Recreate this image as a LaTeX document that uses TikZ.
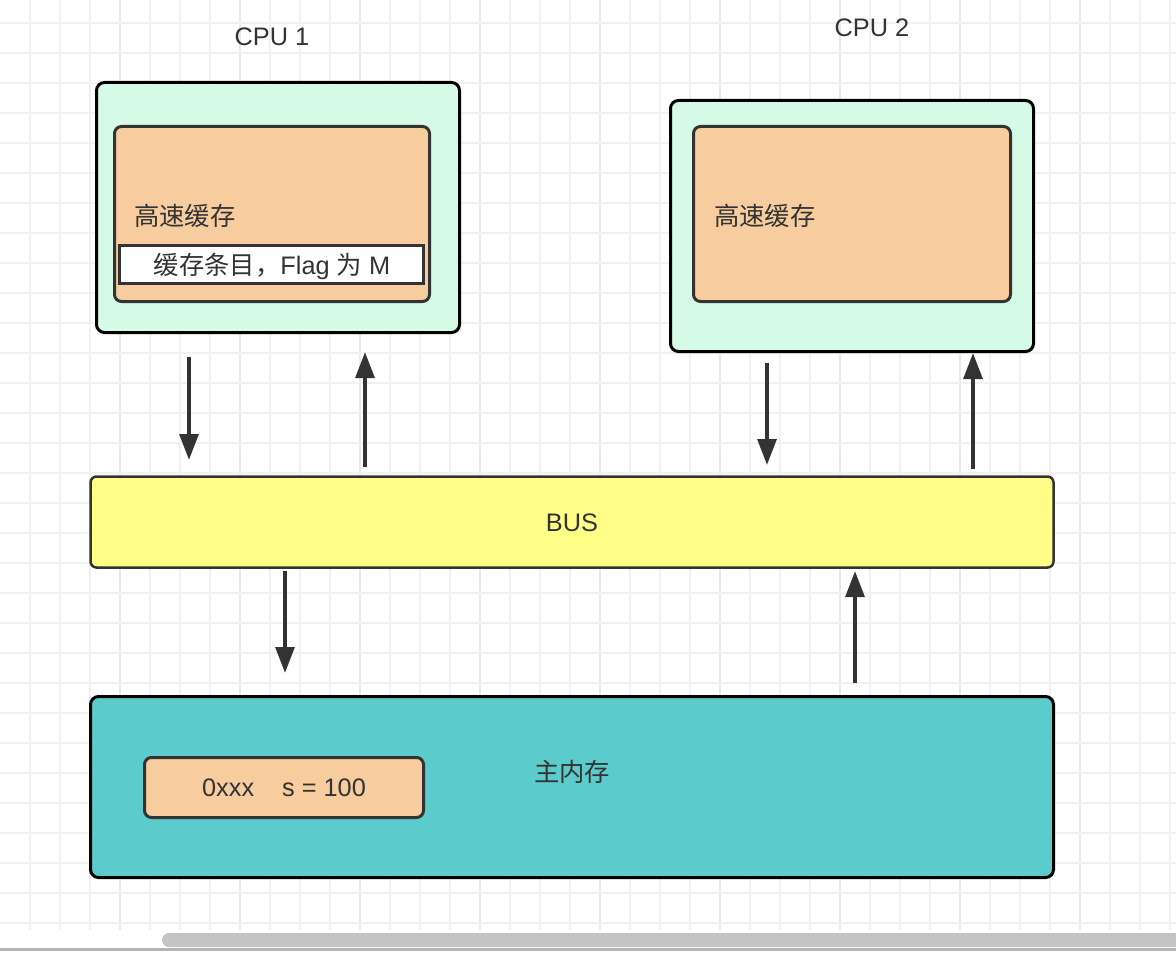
\documentclass[tikz,border=0pt]{standalone}
\usepackage{fontspec}
\setmainfont{Liberation Sans}
\newfontfamily\cjk{Noto Sans CJK SC}
\usetikzlibrary{arrows.meta}
\definecolor{mint}{HTML}{D5FBE6}
\definecolor{peach}{HTML}{F7CC9F}
\definecolor{busy}{HTML}{FFFF88}
\definecolor{teal2}{HTML}{5CCBCB}
\definecolor{ink}{HTML}{333333}
\definecolor{gridc}{HTML}{F1F1F1}
\definecolor{gridm}{HTML}{E9E9E9}
\definecolor{scrollc}{HTML}{C4C4C4}
\definecolor{bottomc}{HTML}{B4B4B4}
\newcommand\pxu{0.75pt}
\tikzset{
  outerbox/.style={draw=black, line width=3*\pxu, rounded corners=8*\pxu, fill=mint, inner sep=0},
  cachebox/.style={draw=ink, line width=3*\pxu, rounded corners=7*\pxu, fill=peach, inner sep=0},
  entrybox/.style={draw=ink, line width=3*\pxu, fill=white, inner sep=0},
  busbox/.style={draw=ink, line width=2.5*\pxu, rounded corners=6*\pxu, fill=busy, inner sep=0},
  membox/.style={draw=black, line width=3*\pxu, rounded corners=8*\pxu, fill=teal2, inner sep=0},
  lbl/.style={text=ink, font=\fontsize{19pt}{23pt}\selectfont, inner sep=0},
  conn/.style={draw=ink, line width=4*\pxu, -{Triangle[length=19.5pt,width=14pt]}},
}
\begin{document}
\begin{tikzpicture}[x=0.75pt,y=-0.75pt]
\useasboundingbox (0,0) rectangle (1176,952);
\fill[white] (0,0) rectangle (1176,952);
% grid
\foreach \x in {30,60,...,1170} \draw[gridc, line width=1.5*\pxu] (\x,0) -- (\x,930);
\foreach \x in {120,240,...,1170} \draw[gridm, line width=1.5*\pxu] (\x,0) -- (\x,930);
\foreach \y in {23,53,...,923} \draw[gridc, line width=1.5*\pxu] (0,\y) -- (1176,\y);
% scrollbar
\fill[scrollc, rounded corners=7*\pxu] (162,933) rectangle (1200,947);
\fill[bottomc] (0,948) rectangle (1176,950.5);

% CPU 1
\node[lbl] (cpu1lbl) at (272,37) {CPU 1};
\node[outerbox, minimum width=363*\pxu, minimum height=250*\pxu] (cpu1) at (278,207.5) {};
\node[cachebox, minimum width=315*\pxu, minimum height=175*\pxu] (cache1) at (272,214) {};
\node[lbl, anchor=west] (cache1lbl) at (134,216) {\cjk 高速缓存};
\node[entrybox, minimum width=304*\pxu, minimum height=38*\pxu] (entry) at (271.5,264.5) {};
\node[lbl] (entrylbl) at (272,266) {{\cjk 缓存条目，}Flag {\cjk 为} M};

% CPU 2
\node[lbl] (cpu2lbl) at (872,28) {CPU 2};
\node[outerbox, minimum width=363*\pxu, minimum height=251*\pxu] (cpu2) at (852,226) {};
\node[cachebox, minimum width=317*\pxu, minimum height=175*\pxu] (cache2) at (852,214) {};
\node[lbl, anchor=west] (cache2lbl) at (714,216) {\cjk 高速缓存};

% BUS
\node[busbox, minimum width=963*\pxu, minimum height=91*\pxu] (bus) at (572,522) {};
\node[lbl] (buslbl) at (572,523) {BUS};

% main memory
\node[membox, minimum width=963*\pxu, minimum height=181*\pxu] (mem) at (572,787) {};
\node[lbl] (memlbl) at (572,772) {\cjk 主内存};
\node[cachebox, minimum width=279*\pxu, minimum height=60*\pxu] (addr) at (284,787.5) {};
\node[lbl] (addrlbl) at (284,788) {0xxx\hspace{1.1em}s = 100};

% connector ends
\coordinate (a1s) at (189,357); \coordinate (a1e) at (189,460);
\coordinate (a2s) at (365,467); \coordinate (a2e) at (365,352);
\coordinate (a3s) at (767,363); \coordinate (a3e) at (767,465);
\coordinate (a4s) at (973,469); \coordinate (a4e) at (973,353);
\coordinate (a5s) at (285,571); \coordinate (a5e) at (285,673);
\coordinate (a6s) at (855,683); \coordinate (a6e) at (855,571);
\draw[conn] (a1s) -- (a1e);
\draw[conn] (a2s) -- (a2e);
\draw[conn] (a3s) -- (a3e);
\draw[conn] (a4s) -- (a4e);
\draw[conn] (a5s) -- (a5e);
\draw[conn] (a6s) -- (a6e);
\end{tikzpicture}
\end{document}
